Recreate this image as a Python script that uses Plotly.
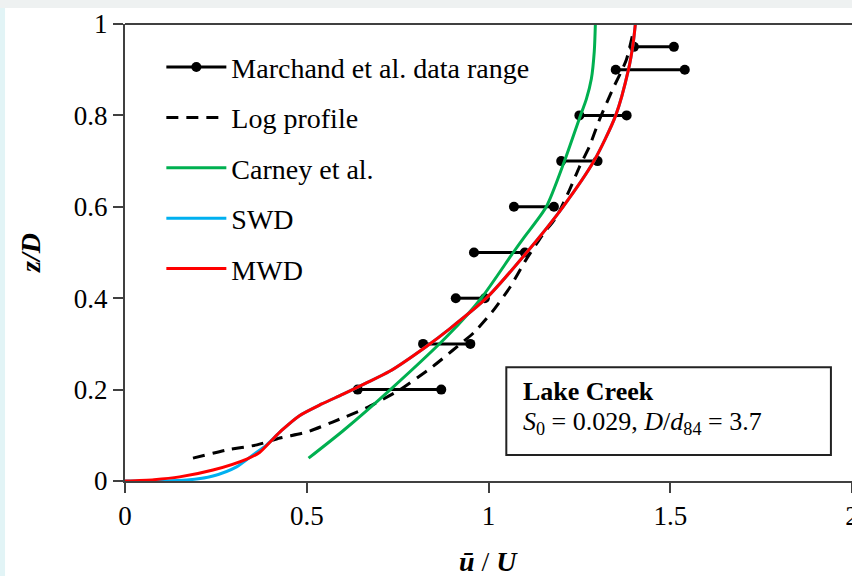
import plotly.graph_objects as go

# ---------------- data ----------------
march_z = [0.2, 0.3, 0.4, 0.5, 0.6, 0.7, 0.8, 0.9, 0.95]
march_min = [0.64, 0.82, 0.91, 0.96, 1.07, 1.20, 1.25, 1.35, 1.40]
march_max = [0.87, 0.95, 0.99, 1.10, 1.18, 1.30, 1.38, 1.54, 1.51]

log_u = [0.187, 0.28, 0.363, 0.426, 0.50, 0.571, 0.664, 0.755, 0.846, 0.90, 0.96, 1.01, 1.06, 1.10, 1.15,
         1.187, 1.223, 1.25, 1.277, 1.305, 1.341, 1.379, 1.40]
log_z = [0.05, 0.068, 0.079, 0.094, 0.107, 0.129, 0.16, 0.199, 0.25, 0.285, 0.325, 0.37, 0.425, 0.48, 0.54,
         0.578, 0.637, 0.687, 0.731, 0.79, 0.856, 0.921, 0.99]

carney_u = [0.505, 0.60, 0.73, 0.89, 0.98, 1.068, 1.099, 1.159, 1.209, 1.253, 1.269, 1.283, 1.291, 1.294]
carney_z = [0.05, 0.11, 0.20, 0.32, 0.40, 0.50, 0.534, 0.60, 0.70, 0.80, 0.835, 0.88, 0.94, 1.00]

swd_u = [0.0, 0.10, 0.17, 0.242, 0.307, 0.352, 0.39, 0.43, 0.48, 0.54, 0.60, 0.66, 0.728, 0.83, 0.893,
         0.994, 1.105, 1.205, 1.29, 1.35, 1.385, 1.398, 1.404]
swd_z = [0.0, 0.0, 0.002, 0.011, 0.031, 0.057, 0.079, 0.11, 0.143, 0.168, 0.19, 0.213, 0.24, 0.295, 0.333,
         0.40, 0.50, 0.60, 0.70, 0.80, 0.90, 0.958, 1.0]

mwd_u = [0.0, 0.08, 0.15, 0.242, 0.335, 0.371, 0.40, 0.43, 0.48, 0.54, 0.60, 0.66, 0.728, 0.83, 0.893,
         0.994, 1.105, 1.205, 1.29, 1.35, 1.385, 1.398, 1.404]
mwd_z = [0.0, 0.003, 0.009, 0.024, 0.048, 0.063, 0.086, 0.11, 0.143, 0.168, 0.19, 0.213, 0.24, 0.295, 0.333,
         0.40, 0.50, 0.60, 0.70, 0.80, 0.90, 0.958, 1.0]

x_ticks = [0, 0.5, 1, 1.5, 2]
x_tick_text = ["0", "0.5", "1", "1.5", "2"]
y_ticks = [0, 0.2, 0.4, 0.6, 0.8, 1]
y_tick_text = ["0", "0.2", "0.4", "0.6", "0.8", "1"]

# build segment arrays for data range
seg_x, seg_y = [], []
for z, a, b in zip(march_z, march_min, march_max):
    seg_x += [a, b, None]
    seg_y += [z, z, None]

FONT = "Liberation Serif, Times New Roman, serif"

fig = go.Figure()
fig.add_trace(go.Scatter(x=seg_x, y=seg_y, mode="lines+markers", name="Marchand et al. data range",
                         line=dict(color="black", width=3), marker=dict(color="black", size=10),
                         legendgroup="a"))
fig.add_trace(go.Scatter(x=log_u, y=log_z, mode="lines", name="Log profile",
                         line=dict(color="black", width=3, dash="12px,8px", shape="spline", smoothing=0.6),
                         legendgroup="b"))
fig.add_trace(go.Scatter(x=carney_u, y=carney_z, mode="lines", name="Carney et al.",
                         line=dict(color="#00b050", width=3, shape="spline", smoothing=0.7), legendgroup="c"))
fig.add_trace(go.Scatter(x=swd_u, y=swd_z, mode="lines", name="SWD",
                         line=dict(color="#00b0f0", width=3, shape="spline", smoothing=0.7), legendgroup="d"))
fig.add_trace(go.Scatter(x=mwd_u, y=mwd_z, mode="lines", name="MWD",
                         line=dict(color="#ff0000", width=3, shape="spline", smoothing=0.7), legendgroup="e"))

fig.update_layout(
    width=852, height=576,
    margin=dict(l=125, r=0, t=24, b=95, autoexpand=False),
    paper_bgcolor="white", plot_bgcolor="white",
    font=dict(family=FONT, size=27, color="black"),
    showlegend=True,
    legend=dict(x=0.05, y=0.96, xanchor="left", yanchor="top", bgcolor="rgba(0,0,0,0)",
                font=dict(family=FONT, size=28), tracegroupgap=11, itemwidth=60,
                traceorder="grouped"),
    xaxis=dict(range=[0, 2], tickvals=x_ticks, ticktext=x_tick_text, showgrid=False, zeroline=False,
               showline=True, linecolor="#404040", linewidth=2, ticks="outside", ticklen=10,
               tickwidth=2, tickcolor="#404040", automargin=False, ticklabeloverflow="allow",
               tickfont=dict(family=FONT, size=27)),
    yaxis=dict(range=[0, 1], tickvals=y_ticks, ticktext=y_tick_text, showgrid=False, zeroline=False,
               showline=True, linecolor="#404040", linewidth=2, ticks="outside", ticklen=10,
               tickwidth=2, tickcolor="#404040", automargin=False, ticklabeloverflow="allow",
               tickfont=dict(family=FONT, size=27)),
)

# top border line of the plot frame
fig.add_shape(type="line", xref="paper", yref="paper", x0=0, x1=1, y0=1, y1=1,
              line=dict(color="#404040", width=2))

# outer screenshot borders
fig.add_shape(type="rect", xref="paper", yref="paper", x0=-0.2, x1=1.05, y0=1.035, y1=1.1,
              fillcolor="#eef1f1", line=dict(width=0), layer="below")
fig.add_shape(type="rect", xref="paper", yref="paper", x0=-0.2, x1=-0.165, y0=-0.25, y1=1.035,
              fillcolor="#e2f4f6", line=dict(width=0), layer="below")

# info box
fig.add_shape(type="rect", xref="x", yref="y", x0=1.049, x1=1.942, y0=0.057, y1=0.249,
              line=dict(color="#222222", width=2), fillcolor="white")
fig.add_annotation(x=1.09, y=0.195, xref="x", yref="y", xanchor="left", yanchor="middle",
                   text="<b>Lake Creek</b>", showarrow=False, font=dict(family=FONT, size=26))
fig.add_annotation(x=1.09, y=0.128, xref="x", yref="y", xanchor="left", yanchor="middle",
                   text="<i>S</i><sub>0</sub> = 0.029, <i>D</i>/<i>d</i><sub>84</sub> = 3.7",
                   showarrow=False, font=dict(family=FONT, size=26))

# axis titles
fig.add_annotation(xref="paper", yref="paper", x=(30 - 125) / 727, y=(481 - 253) / 457,
                   text="<b><i>z</i></b><b><i>/D</i></b>", textangle=-90, showarrow=False,
                   xanchor="center", yanchor="middle", font=dict(family=FONT, size=28))
fig.add_annotation(xref="paper", yref="paper", x=(488 - 125) / 727, y=(481 - 561) / 457,
                   text="<b><i>ū</i></b> / <b><i>U</i></b>", showarrow=False,
                   xanchor="center", yanchor="middle", font=dict(family=FONT, size=28))

fig.write_html("out.html")
